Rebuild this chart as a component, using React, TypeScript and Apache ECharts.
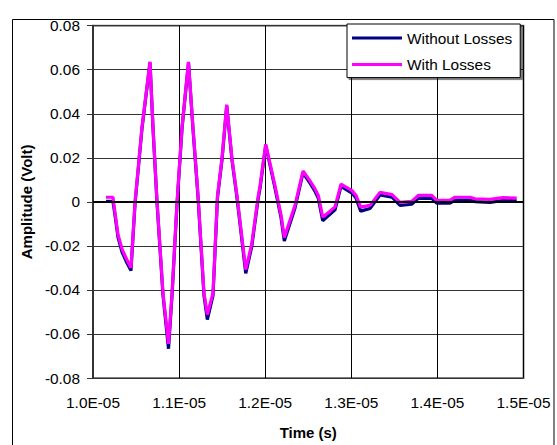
import React, { useEffect, useRef } from "react";
import * as echarts from "echarts";

// Time in seconds
const timeS: number[] = [
  10.151e-6, 10.232e-6, 10.256e-6, 10.290e-6, 10.337e-6, 10.395e-6, 10.441e-6, 10.488e-6,
  10.569e-6, 10.662e-6, 10.697e-6, 10.743e-6, 10.813e-6, 10.877e-6, 10.918e-6, 10.976e-6,
  11.034e-6, 11.109e-6, 11.161e-6, 11.220e-6, 11.289e-6, 11.328e-6, 11.394e-6, 11.446e-6,
  11.498e-6, 11.553e-6, 11.614e-6, 11.672e-6, 11.774e-6, 11.843e-6, 11.920e-6, 11.940e-6,
  12.006e-6, 12.114e-6, 12.184e-6, 12.222e-6, 12.346e-6, 12.439e-6, 12.520e-6, 12.578e-6,
  12.617e-6, 12.668e-6, 12.729e-6, 12.811e-6, 12.880e-6, 13.008e-6, 13.055e-6, 13.109e-6,
  13.217e-6, 13.333e-6, 13.473e-6, 13.566e-6, 13.701e-6, 13.778e-6, 13.934e-6, 13.992e-6,
  14.146e-6, 14.204e-6, 14.379e-6, 14.437e-6, 14.611e-6, 14.762e-6, 14.921e-6,
];

// Amplitude (Volt)
const withoutLosses: number[] = [
  0.0002, 0.0002, -0.0062, -0.016, -0.0228, -0.0278, -0.0312, -0.001,
  0.0333, 0.0632, 0.0333, 0.0, -0.0425, -0.0667, -0.0425, -0.001,
  0.0333, 0.0632, 0.0333, 0.002, -0.0425, -0.0535, -0.0425, 0.002,
  0.019, 0.0436, 0.019, 0.002, -0.0325, -0.0205, 0.0018, 0.0062,
  0.0256, 0.0062, -0.0072, -0.0178, -0.0028, 0.0132, 0.0085, 0.0048,
  0.0016, -0.0086, -0.0065, -0.0036, 0.007, 0.004, 0.0017, -0.0042,
  -0.003, 0.0031, 0.0021, -0.0016, -0.0011, 0.0016, 0.0016, -0.0006,
  -0.0006, 0.0008, 0.0008, 0.0001, -0.0002, 0.0006, 0.0004,
];

const withLosses: number[] = [
  0.0021, 0.0021, -0.0051, -0.0148, -0.0215, -0.0264, -0.0299, -0.0002,
  0.0339, 0.0636, 0.0339, 0.0007, -0.0414, -0.0645, -0.0414, -0.0002,
  0.0339, 0.0636, 0.0339, 0.0029, -0.0414, -0.0512, -0.0414, 0.0029,
  0.0197, 0.0441, 0.0197, 0.0029, -0.0308, -0.0193, 0.0029, 0.0073,
  0.0262, 0.0073, -0.006, -0.0162, -0.0016, 0.014, 0.0095, 0.0059,
  0.0029, -0.0069, -0.0051, -0.0023, 0.008, 0.0051, 0.0029, -0.0024,
  -0.0016, 0.0043, 0.0033, -0.0002, 0.0002, 0.0029, 0.0029, 0.0007,
  0.0007, 0.0021, 0.0021, 0.0014, 0.0011, 0.0019, 0.0017,
];

const seriesNames = ["Without Losses", "With Losses"];
const xTitle = "Time (s)";
const yTitle = "Amplitude (Volt)";

const FONT = "'Liberation Sans', Arial, sans-serif";

export default function App() {
  const ref = useRef<HTMLDivElement>(null);
  useEffect(() => {
    if (!ref.current) return;
    const chart = echarts.init(ref.current, undefined, { renderer: "svg" });
    const pairs = (ys: number[]) => timeS.map((t, i) => [t, ys[i]]);
    chart.setOption({
      animation: false,
      backgroundColor: "#ffffff",
      textStyle: { fontFamily: FONT },
      graphic: [
        {
          type: "rect",
          shape: { x: 12.5, y: 19.5, width: 541.5, height: 440 },
          style: { fill: "none", stroke: "#000", lineWidth: 1 },
          silent: true,
        },
      ],
      grid: {
        left: 93,
        right: 33.5,
        top: 25.7,
        bottom: 58,
        show: true,
        borderColor: "#808080",
        borderWidth: 2,
        backgroundColor: "#ffffff",
        containLabel: false,
      },
      legend: {
        orient: "vertical",
        left: 347,
        top: 24,
        padding: [4, 8, 3, 5],
        itemWidth: 50,
        itemHeight: 3,
        itemGap: 6.6,
        icon: "rect",
        backgroundColor: "#ffffff",
        borderColor: "#000",
        borderWidth: 1,
        shadowColor: "rgba(0,0,0,0.5)",
        shadowOffsetX: 2,
        shadowOffsetY: 2,
        textStyle: { fontSize: 15.4, color: "#000", fontFamily: FONT, lineHeight: 20 },
        data: seriesNames,
      },
      xAxis: {
        type: "value",
        min: 1.0e-5,
        max: 1.5e-5,
        interval: 1e-6,
        name: xTitle,
        nameLocation: "middle",
        nameGap: 47,
        nameTextStyle: { fontSize: 15, fontWeight: "bold", color: "#000", fontFamily: FONT },
        axisLine: { show: false },
        axisTick: { show: false },
        axisLabel: {
          fontSize: 15.4,
          color: "#000",
          fontFamily: FONT,
          margin: 17,
          showMinLabel: true,
          showMaxLabel: true,
          formatter: (v: number) => (v * 1e5).toFixed(1) + "E-05",
        },
        splitLine: { show: true, lineStyle: { color: "#000", width: 1 } },
      },
      yAxis: {
        type: "value",
        min: -0.08,
        max: 0.08,
        interval: 0.02,
        name: yTitle,
        nameLocation: "middle",
        nameGap: 50,
        nameRotate: 90,
        nameTextStyle: { fontSize: 15, fontWeight: "bold", color: "#000", fontFamily: FONT },
        axisLine: { show: true, lineStyle: { color: "#333", width: 2 } },
        axisTick: { show: true, length: 6, lineStyle: { color: "#333", width: 1 } },
        axisLabel: {
          fontSize: 15.4,
          color: "#000",
          fontFamily: FONT,
          margin: 13,
          formatter: (v: number) => (Math.abs(v) < 1e-9 ? "0" : v.toFixed(2)),
        },
        splitLine: { show: true, lineStyle: { color: "#333", width: 1 } },
      },
      series: [
        {
          name: seriesNames[0],
          type: "line",
          data: pairs(withoutLosses),
          showSymbol: false,
          symbol: "none",
          lineStyle: { color: "#000080", width: 3.2 },
          itemStyle: { color: "#000080" },
          z: 2,
          markLine: {
            silent: true,
            symbol: "none",
            label: { show: false },
            lineStyle: { color: "#000", width: 1.8, type: "solid" },
            data: [{ yAxis: 0 }],
          },
        },
        {
          name: seriesNames[1],
          type: "line",
          data: pairs(withLosses),
          showSymbol: false,
          symbol: "none",
          lineStyle: { color: "#ff00ff", width: 3.2 },
          itemStyle: { color: "#ff00ff" },
          z: 3,
        },
      ],
    });
    return () => chart.dispose();
  }, []);
  return (
    <div
      ref={ref}
      style={{ position: "fixed", left: 0, top: 0, width: 557, height: 445 }}
    />
  );
}
